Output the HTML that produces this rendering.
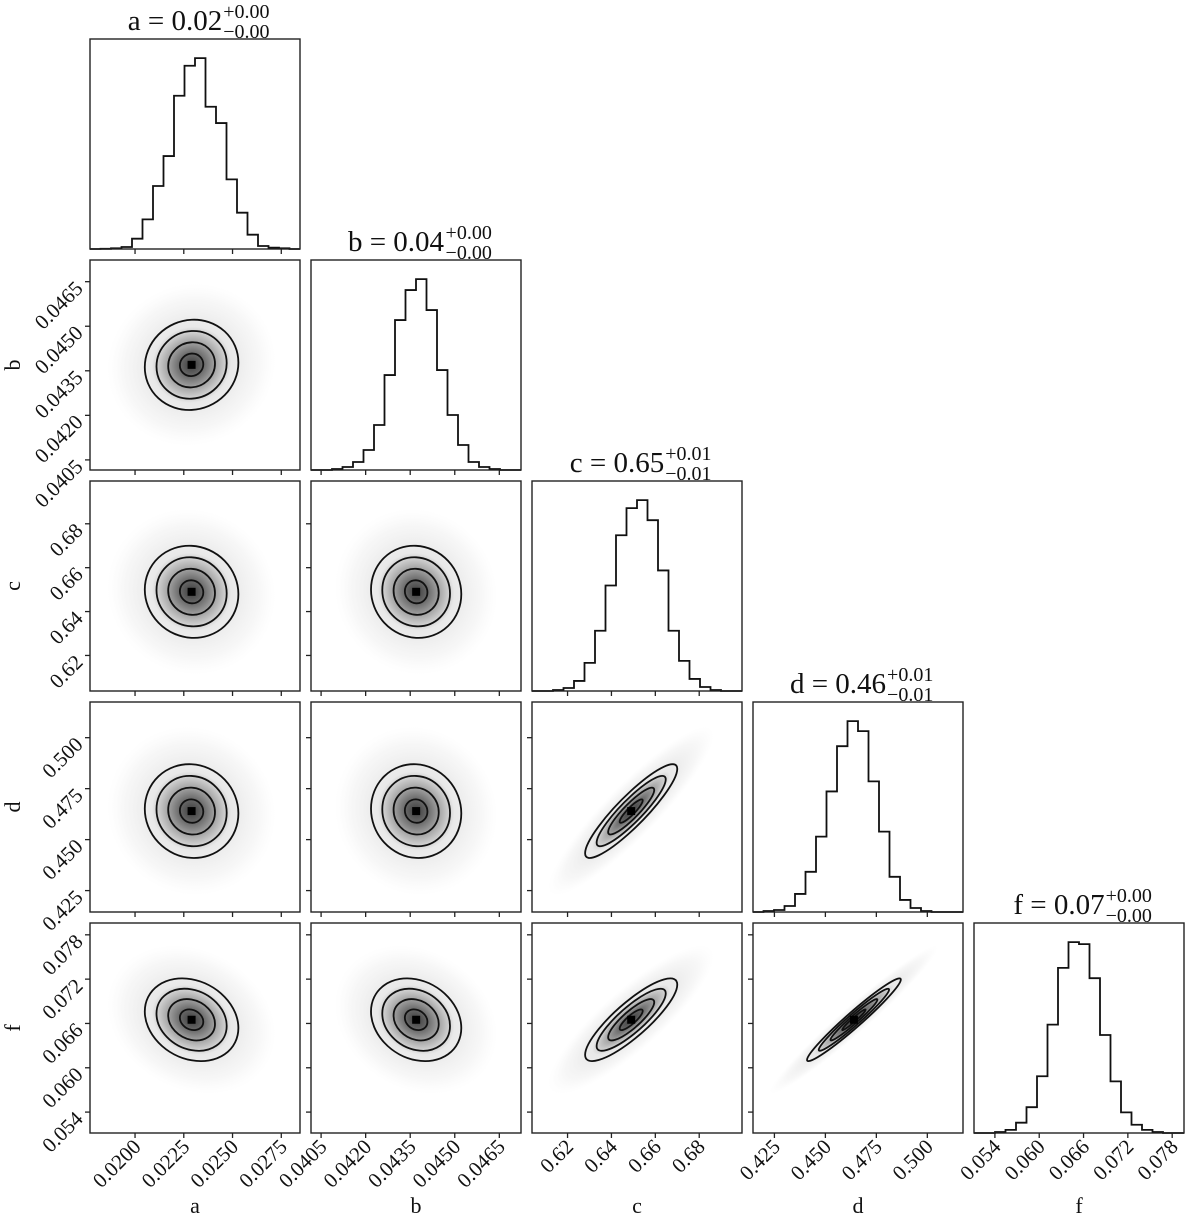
<!DOCTYPE html>
<html><head><meta charset="utf-8"><style>
html,body{margin:0;padding:0;background:#fff;}
svg{display:block;font-family:"Liberation Serif",serif;}
</style></head><body>
<svg id="c" width="1200" height="1220" viewBox="0 0 1200 1220" xmlns="http://www.w3.org/2000/svg">
<defs>
<radialGradient id="scat" cx="0" cy="0" r="3.6" gradientUnits="userSpaceOnUse">
<stop offset="0" stop-color="#d0d0d0" stop-opacity="0.8"/>
<stop offset="0.5" stop-color="#d8d8d8" stop-opacity="0.55"/>
<stop offset="0.8" stop-color="#e4e4e4" stop-opacity="0.3"/>
<stop offset="1" stop-color="#eee" stop-opacity="0"/>
</radialGradient>
<radialGradient id="dens" cx="0" cy="0" r="1.7" gradientUnits="userSpaceOnUse">
<stop offset="0" stop-color="#222"/>
<stop offset="0.3" stop-color="#555"/>
<stop offset="0.6" stop-color="#999"/>
<stop offset="1" stop-color="#eaeaea"/>
</radialGradient>
</defs>
</svg>
<script>
const names = ["a","b","c","d","f"];
const titleVals = ["0.02","0.04","0.65","0.46","0.07"];
const titlePlus = ["+0.00","+0.00","+0.01","+0.01","+0.00"];
const titleMinus = ["\u22120.00","\u22120.00","\u22120.01","\u22120.01","\u22120.00"];
const rangeMin = [0.01769, 0.04016, 0.6038, 0.4145, 0.05117];
const rangeMax = [0.02846, 0.04723, 0.6995, 0.5175, 0.0796];
const ticksA = [0.0200, 0.0225, 0.0250, 0.0275];
const ticksB = [0.0405, 0.0420, 0.0435, 0.0450, 0.0465];
const ticksC = [0.62, 0.64, 0.66, 0.68];
const ticksD = [0.425, 0.450, 0.475, 0.500];
const ticksF = [0.054, 0.060, 0.066, 0.072, 0.078];
const tickLabA = ["0.0200","0.0225","0.0250","0.0275"];
const tickLabB = ["0.0405","0.0420","0.0435","0.0450","0.0465"];
const tickLabC = ["0.62","0.64","0.66","0.68"];
const tickLabD = ["0.425","0.450","0.475","0.500"];
const tickLabF = ["0.054","0.060","0.066","0.072","0.078"];
const histA = [0,0.5,2,6,31,89,189,279,460,550,573,427,378,209,109,43,9,4,2,0];
const histB = [0,0,1,3,8,20,45,95,150,180,191,160,100,55,25,8,3,1,0,0];
const histC = [0,0,1,3,10,28,60,105,155,182,190,170,120,60,30,12,4,1,0,0];
const histD = [0,1,2,6,18,40,75,120,165,190,180,130,80,35,12,4,1,0,0,0];
const histF = [0,0,1,3,10,25,55,105,160,185,183,150,95,50,20,8,3,1,0,0];
const means = [0.0229, 0.0437, 0.649, 0.464, 0.0665];
const sigmas = [0.0012, 0.00076, 0.0105, 0.0115, 0.0028];
const corrB = [0.05];
const corrC = [-0.05, -0.05];
const corrD = [-0.05, -0.05, 0.90];
const corrF = [-0.2, -0.2, 0.85, 0.97];

const ticks = [ticksA,ticksB,ticksC,ticksD,ticksF];
const tickLabs = [tickLabA,tickLabB,tickLabC,tickLabD,tickLabF];
const hists = [histA,histB,histC,histD,histF];
const corrs = [[],corrB,corrC,corrD,corrF];
const SIZE=210, STEP=221, X0=90, Y0=39;
const NS="http://www.w3.org/2000/svg";
const svg=document.getElementById('c');
function el(tag,attrs,parent){const e=document.createElementNS(NS,tag);for(const k in attrs)e.setAttribute(k,attrs[k]);(parent||svg).appendChild(e);return e;}
function X(k,v,col){return X0+col*STEP+(v-rangeMin[k])/(rangeMax[k]-rangeMin[k])*SIZE;}
function Y(k,v,row){return Y0+row*STEP+SIZE-(v-rangeMin[k])/(rangeMax[k]-rangeMin[k])*SIZE;}

for(let i=0;i<5;i++){
  for(let j=0;j<=i;j++){
    const px=X0+j*STEP, py=Y0+i*STEP;
    const g=el('g',{});
    
    
    const cp=el('clipPath',{id:'cp'+i+j},g);el('rect',{x:px,y:py,width:SIZE,height:SIZE},cp);
    if(i===j){
      const h=hists[i], m=Math.max(...h), bw=SIZE/h.length;
      let d='M'+px+' '+(py+SIZE);
      h.forEach((v,b)=>{const y=py+SIZE-v/(1.1*m)*SIZE;d+=' L'+(px+b*bw)+' '+y+' L'+(px+(b+1)*bw)+' '+y;});
      d+=' L'+(px+SIZE)+' '+(py+SIZE);
      const p=el('path',{d:d,fill:'none',stroke:'#111','stroke-width':1.8},g);
      
      
      const cx=px+SIZE/2-20;
      const t=el('text',{x:cx,y:py-9,'font-size':29,'text-anchor':'middle',fill:'#111'},g);
      t.textContent=names[i]+' = '+titleVals[i];
      
      
      const bb=t.getBBox();
      const sp=el('text',{x:bb.x+bb.width+1,y:py-21,'font-size':20,fill:'#111'},g);sp.textContent=titlePlus[i];
      
      
      const sm=el('text',{x:bb.x+bb.width+1,y:py-1,'font-size':20,fill:'#111'},g);sm.textContent=titleMinus[i];
      
      
    } else {
      const kx=SIZE/(rangeMax[j]-rangeMin[j]), ky=SIZE/(rangeMax[i]-rangeMin[i]);
      const rho=corrs[i][j], s=Math.sqrt(1-rho*rho);
      const a=kx*sigmas[j], b=-ky*sigmas[i]*rho, dd=-ky*sigmas[i]*s;
      const e=X(j,means[j],j), f=Y(i,means[i],i);
      const cg=el('g',{'clip-path':'url(#cp'+i+j+')'},g);
      const mg=el('g',{transform:`matrix(${a} ${b} 0 ${dd} ${e} ${f})`},cg);
      const sc=el('circle',{cx:0,cy:0,r:3.6,fill:'url(#scat)'},mg);
      
      
      el('circle',{cx:0,cy:0,r:1.7,fill:'url(#dens)'},mg).setAttribute('fill-opacity','0.85');
      [0.5,1,1.5,2].forEach(r=>{
        const c=el('circle',{cx:0,cy:0,r:r,fill:'none',stroke:'#111','stroke-width':1.8,'vector-effect':'non-scaling-stroke'},mg);
        
        
      });
      el('rect',{x:e-4,y:f-4,width:8,height:8,fill:'#000'},cg);
      ticks[i].forEach((v,n)=>{const y=Y(i,v,i);el('line',{x1:px-5,x2:px,y1:y,y2:y,stroke:'#222','stroke-width':1.3},g);
        if(j===0){const t=el('text',{x:0,y:0,'font-size':21,'text-anchor':'end',fill:'#111',transform:`translate(${px-6},${y+8}) rotate(-45)`},g);t.textContent=tickLabs[i][n];
          
          }});
    }
    ticks[j].forEach((v,n)=>{const x=X(j,v,j);el('line',{x1:x,x2:x,y1:py+SIZE,y2:py+SIZE+5,stroke:'#222','stroke-width':1.3},g);
      if(i===4){const t=el('text',{x:0,y:0,'font-size':21,'text-anchor':'end',fill:'#111',transform:`translate(${x+7},${py+SIZE+15}) rotate(-45)`},g);t.textContent=tickLabs[j][n];
        
        }});
    const fr=el('rect',{x:px,y:py,width:SIZE,height:SIZE,fill:'none',stroke:'#222','stroke-width':1.4},g);
    
    
  }
}
for(let k=0;k<5;k++){
  const t=el('text',{x:X0+k*STEP+SIZE/2,y:1213,'font-size':22,'text-anchor':'middle',fill:'#111'});
  t.textContent=names[k];
  
  
  if(k>0){const cy=Y0+k*STEP+SIZE/2;
    const u=el('text',{x:0,y:0,'font-size':22,'text-anchor':'middle',fill:'#111',transform:`translate(20,${cy}) rotate(-90)`});
    u.textContent=names[k];
    
    }
}
</script>
</body></html>
